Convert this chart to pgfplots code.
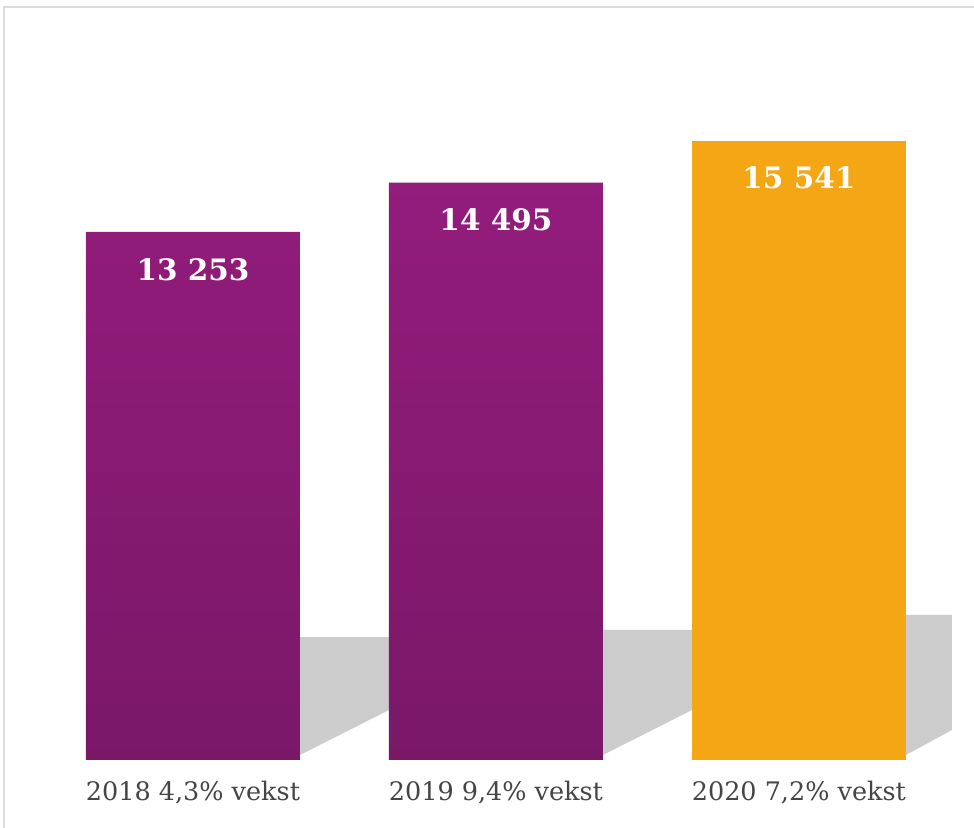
\documentclass[border=0pt]{standalone}
\usepackage{fontspec}
\setmainfont{DejaVu Serif}
\usepackage{pgfplots}
\pgfplotsset{compat=1.18}
\definecolor{purpTop}{HTML}{931C7C}
\definecolor{purpBot}{HTML}{7A1868}
\definecolor{orangeBar}{HTML}{F5A615}
\definecolor{labelGray}{HTML}{454545}
\definecolor{frameGray}{HTML}{DCDCDC}
\begin{document}
\begin{tikzpicture}
\useasboundingbox (0,0) rectangle (974bp,828bp);
\fill[white] (0,0) rectangle (974bp,828bp);
\draw[frameGray, line width=2.5bp] (4bp,0) -- (4bp,821bp) -- (974bp,821bp);
\begin{axis}[
  at={(0,68bp)}, anchor=south west,
  width=974bp, height=760bp, scale only axis,
  xmin=-0.637, xmax=2.578, ymin=0, ymax=19076,
  axis line style={draw=none},
  tick style={draw=none},
  ytick=\empty,
  xtick={0,1,2},
  xticklabels={{2018 4,3\% vekst}, {2019 9,4\% vekst}, {2020 7,2\% vekst}},
  xticklabel style={font=\fontsize{25.5bp}{28bp}\selectfont, text=labelGray, anchor=north, yshift=-18bp},
  clip=false,
  /pgf/number format/assume math mode=true,
  nodes near coords={\pgfmathprintnumber[1000 sep={\ }]{\pgfplotspointmeta}},
  every node near coord/.append style={anchor=north, yshift=-26bp, inner sep=0pt,
     text=white, font=\bfseries\fontsize{29.5bp}{31bp}\selectfont},
]
% shadows
\addplot[fill=black!20, draw=none, nodes near coords={}] coordinates {(0.353,125) (0.353,3087) (0.647,3087) (0.647,1255)} --cycle;
\addplot[fill=black!20, draw=none, nodes near coords={}] coordinates {(1.353,125) (1.353,3263) (1.647,3263) (1.647,1255)} --cycle;
\addplot[fill=black!20, draw=none, nodes near coords={}] coordinates {(2.353,125) (2.353,3640) (2.505,3640) (2.505,753)} --cycle;
% bars
\addplot[ybar, bar width=214bp, draw=none, top color=purpTop, bottom color=purpBot] coordinates {(0,13253) (1,14495)};
\addplot[ybar, bar width=214bp, draw=none, fill=orangeBar] coordinates {(2,15541)};
\end{axis}
\end{tikzpicture}
\end{document}
